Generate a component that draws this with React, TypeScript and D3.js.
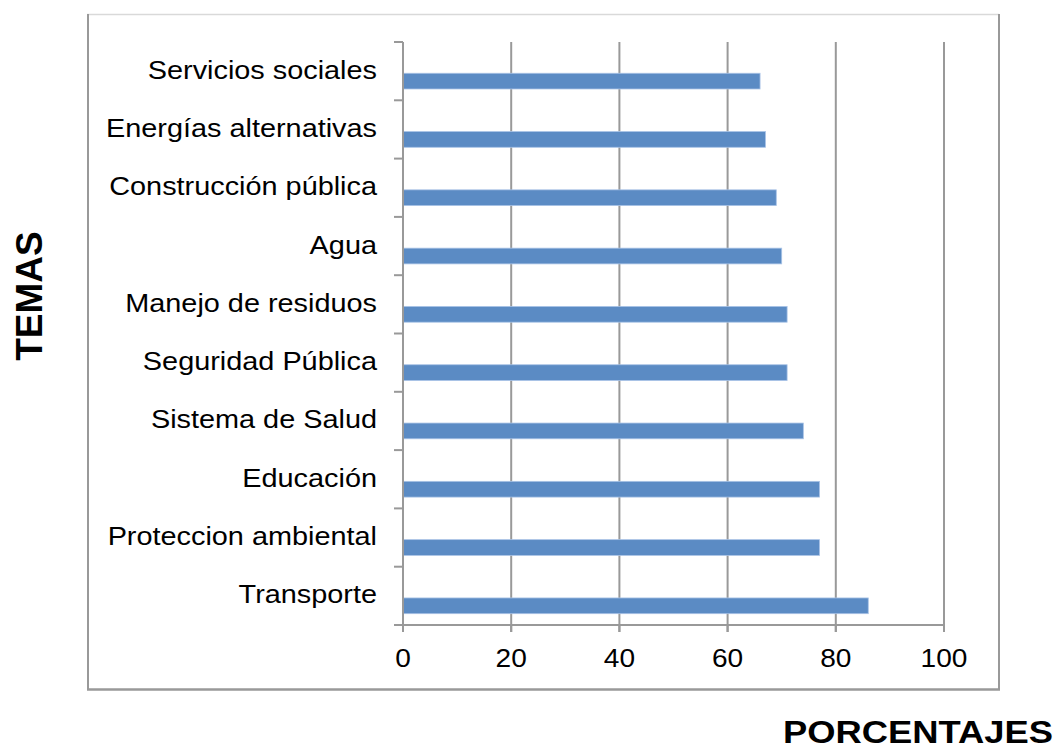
import React from "react";
import * as d3 from "d3";

const categories = [
  "Servicios sociales",
  "Energías alternativas",
  "Construcción pública",
  "Agua",
  "Manejo de residuos",
  "Seguridad Pública",
  "Sistema de Salud",
  "Educación",
  "Proteccion ambiental",
  "Transporte",
];
const values = [66, 67, 69, 70, 71, 71, 74, 77, 77, 86];
const xTicks = [0, 20, 40, 60, 80, 100];
const xTitle = "PORCENTAJES";
const yTitle = "TEMAS";

export default function App() {
  const W = 1058, H = 749;
  const left = 403, right = 944, top = 42, bottom = 625;
  const x = d3.scaleLinear().domain([0, 100]).range([left, right]);
  const y = d3.scaleBand<string>().domain(categories).range([top, bottom]).paddingInner(0).paddingOuter(0);
  const bw = y.bandwidth();
  const grid = "#999999";
  const font = "'Liberation Sans', Arial, sans-serif";
  const tickYs = [...categories.map((c) => y(c)!), bottom];
  return (
    <svg width={W} height={H} style={{ position: "absolute", left: 0, top: 0, background: "#fff" }} fontFamily={font}>
      {/* frame */}
      <line x1={87} y1={14.5} x2={999} y2={14.5} stroke="#d9d9d9" strokeWidth={1.5} />
      <line x1={88} y1={14} x2={88} y2={690} stroke={grid} strokeWidth={2} />
      <line x1={999} y1={14} x2={999} y2={690} stroke={grid} strokeWidth={2} />
      <line x1={87} y1={689.5} x2={1000} y2={689.5} stroke={grid} strokeWidth={2.5} />
      {/* gridlines */}
      {xTicks.filter((t) => t > 0).map((t) => (
        <line key={t} x1={x(t)} x2={x(t)} y1={top} y2={bottom + 7} stroke={grid} strokeWidth={2} />
      ))}
      {/* bars */}
      {categories.map((c, i) => (
        <rect key={c} x={x(0)} y={y(c)! + bw * 0.536} width={x(values[i]) - x(0)} height={bw * 0.27}
          fill="#5b8bc4" stroke="#a9c3e6" strokeWidth={0.8} />
      ))}
      {/* y axis */}
      <line x1={left} x2={left} y1={top} y2={bottom + 7} stroke={grid} strokeWidth={2} />
      {tickYs.map((ty, i) => (
        <line key={i} x1={left - 9} x2={left} y1={ty} y2={ty} stroke={grid} strokeWidth={2} />
      ))}
      {/* x axis */}
      <line x1={left - 9} x2={right} y1={bottom} y2={bottom} stroke={grid} strokeWidth={2} />
      {xTicks.map((t) => (
        <g key={t}>
          <line x1={x(t)} x2={x(t)} y1={bottom} y2={bottom + 7} stroke={grid} strokeWidth={2} />
          <text transform={`translate(${x(t)},667) scale(1.08,1)`} textAnchor="middle" fontSize={26} fill="#000">{t}</text>
        </g>
      ))}
      {/* category labels */}
      {categories.map((c) => (
        <text key={c} transform={`translate(377,${y(c)! + bw * 0.5 + 7.5}) scale(1.11,1)`} textAnchor="end" fontSize={26} fill="#000">{c}</text>
      ))}
      <text x={783} y={743} textLength={270} lengthAdjust="spacingAndGlyphs" fontSize={31} fontWeight="bold" fill="#000">{xTitle}</text>
      <text transform={`translate(42,296) rotate(-90)`} textAnchor="middle" fontSize={37} fontWeight="bold" fill="#000">{yTitle}</text>
    </svg>
  );
}
